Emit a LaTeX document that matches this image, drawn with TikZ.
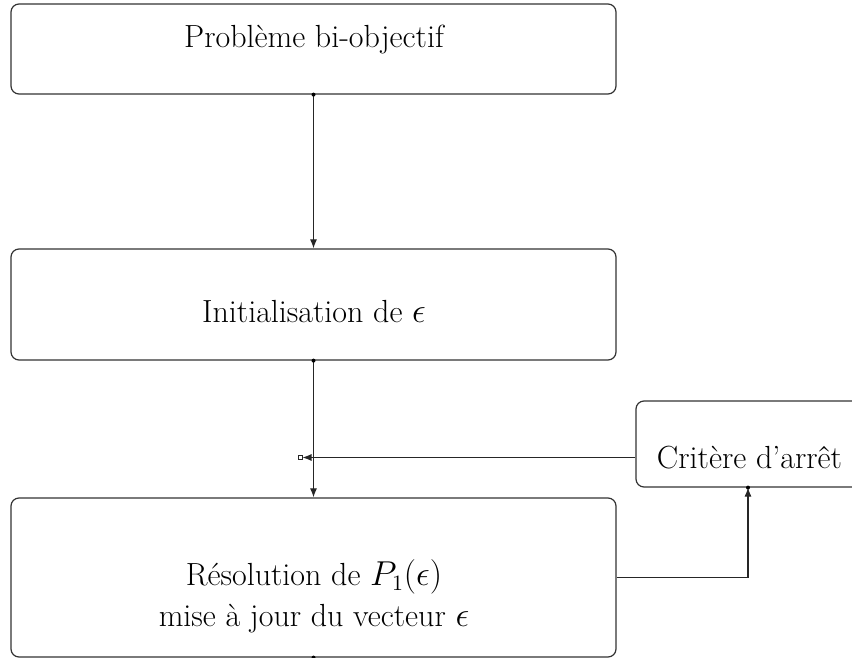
\documentclass[tikz,border=0pt]{standalone}
\usepackage{amsmath,amssymb}
\usetikzlibrary{arrows.meta}
\tikzset{
  box/.style = {draw=black!80, rounded corners=4pt, inner sep=0pt, line width=0.6pt},
  flow/.style = {-{Latex[length=4.5pt,width=3.5pt]}, draw=black!85, line width=0.55pt},
  dot/.style = {circle, fill, minimum size=#1,
                inner sep=0pt, outer sep=0pt},
  dot/.default = 2pt,
  lbl/.style = {font=\fontsize{16}{19}\selectfont, align=center}
}

\begin{document}
\begin{tikzpicture}[x=0.5pt, y=-0.5pt]
	\def \u{0.5pt}
	\useasboundingbox (0,0) rectangle (852,658);
	\clip (0,0) rectangle (852,658);

	% Boxes
	\node[box, minimum width=605*\u, minimum height=90*\u]  (pb)   at (313.5,49)  {};
	\node[box, minimum width=605*\u, minimum height=111*\u] (init) at (313.5,304.5) {};
	\node[box, minimum width=605*\u, minimum height=159*\u] (res)  at (313.5,577.5) {};
	\node[box, minimum width=224*\u, minimum height=86*\u]  (crit) at (748,444) {};

	% Texts
	\node[lbl] (pbtxt)   at (314,40)  {Problème bi-objectif};
	\node[lbl] (inittxt) at (314,312) {Initialisation de $\epsilon$};
	\node[lbl] (restxt)  at (314,596) {Résolution de $P_1(\epsilon)$\\[1.5pt] mise à jour du vecteur $\epsilon$};
	\node[lbl] (crittxt) at (749.5,458) {Critère d'arrêt};

	% Junction
	\node[draw=black!85, minimum size=2pt, inner sep=0pt, line width=0.5pt] (j) at (300,457.5) {};

	% Arrows
	\draw[flow] (pb.south) -- (init.north);
	\draw[flow] (init.south) -- (res.north);
	\draw[flow] (crit.west |- j) -- (j.east);
	\draw[flow] (res.east) -| (crit.south);

	% Dots
	\node[dot] (d1) at (pb.south) {};
	\node[dot] (d2) at (init.south) {};
	\node[dot] (d3) at (res.south) {};
	\node[dot] (d4) at (crit.south) {};
\end{tikzpicture}
\end{document}
